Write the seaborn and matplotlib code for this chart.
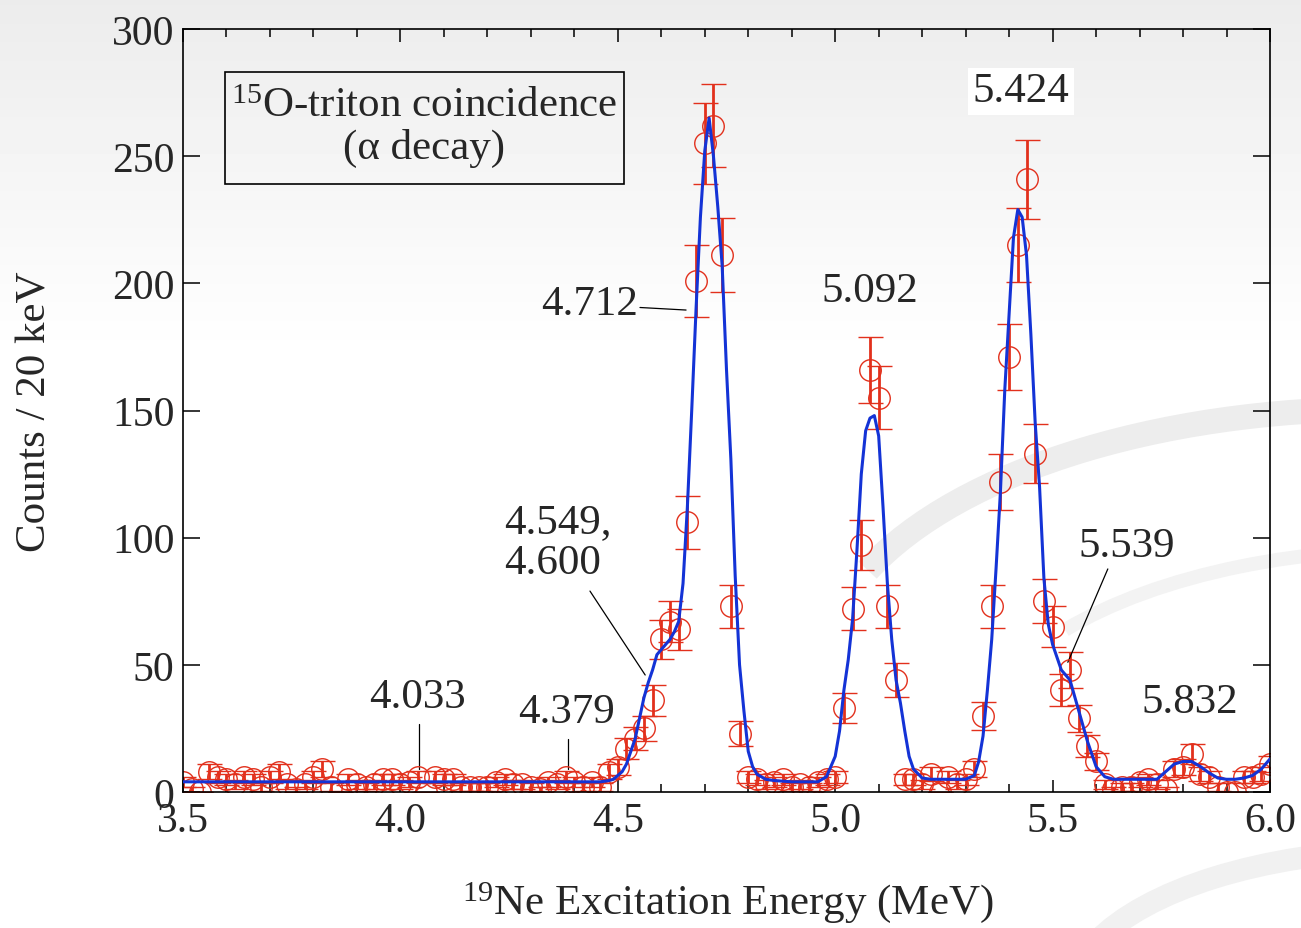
import numpy as np
import matplotlib
matplotlib.use("Agg")
import matplotlib.pyplot as plt
import seaborn as sns
from matplotlib.patches import Arc, Rectangle
from matplotlib.ticker import MultipleLocator

# measured spectrum, 20 keV bins from 3.50 to 6.00 MeV
energy = np.round(np.arange(3.50, 6.001, 0.02), 2)
counts = [4, 1, 0, 8, 6, 5, 3, 6, 5, 2,
          6, 8, 3, 1, 3, 6, 9, 2, 0, 5,
          3, 2, 3, 5, 5, 3, 4, 6, 0, 6,
          5, 5, 2, 2, 2, 2, 4, 5, 3, 3,
          2, 1, 4, 3, 6, 4, 2, 4, 2, 8,
          10, 17, 21, 25, 36, 60, 67, 64, 106, 201,
          255, 262, 211, 73, 23, 6, 5, 3, 4, 5,
          2, 3, 2, 4, 5, 6, 33, 72, 97, 166,
          155, 73, 44, 5, 5, 3, 7, 0, 6, 3,
          5, 9, 30, 73, 122, 171, 215, 241, 133, 75,
          65, 40, 48, 29, 18, 12, 3, 1, 2, 2,
          4, 5, 3, 1, 9, 10, 15, 7, 6, 2,
          0, 0, 6, 6, 7, 11]
errors = np.sqrt(counts)

# fitted curve
fit_energy = [3.50, 4.40, 4.46, 4.48, 4.49, 4.50, 4.51, 4.52, 4.53, 4.54,
              4.55, 4.56, 4.57, 4.58, 4.59, 4.60, 4.61, 4.62, 4.63, 4.64,
              4.65, 4.66, 4.67, 4.68, 4.69, 4.70, 4.71, 4.72, 4.73, 4.74,
              4.75, 4.76, 4.77, 4.78, 4.79, 4.80, 4.81, 4.82, 4.84, 4.86,
              4.90, 4.96, 4.98, 5.00, 5.01, 5.02, 5.03, 5.04, 5.05, 5.06,
              5.07, 5.08, 5.09, 5.10, 5.11, 5.12, 5.13, 5.14, 5.15, 5.16,
              5.17, 5.18, 5.20, 5.22, 5.30, 5.32, 5.33, 5.34, 5.35, 5.36,
              5.37, 5.38, 5.39, 5.40, 5.41, 5.42, 5.43, 5.44, 5.45, 5.46,
              5.47, 5.48, 5.49, 5.50, 5.52, 5.54, 5.56, 5.58, 5.60, 5.62,
              5.64, 5.74, 5.76, 5.78, 5.80, 5.82, 5.84, 5.86, 5.88, 5.90,
              5.92, 5.94, 5.96, 5.98, 6.00]
fit_counts = [4, 4, 4, 4.5, 5, 6.5, 8, 11, 16, 21,
              29, 37, 43, 48, 54, 56, 58, 60, 63, 67,
              82, 112, 150, 190, 226, 252, 265, 250, 230, 207,
              166, 131, 85, 50, 32, 16, 10, 7, 5, 4.5,
              4, 4, 6, 14, 24, 40, 52, 68, 95, 125,
              142, 147, 148, 140, 112, 82, 60, 44, 35, 24,
              14, 9, 5.5, 5, 5, 6.5, 12, 22, 40, 60,
              88, 118, 158, 188, 218, 229, 226, 211, 180, 145,
              120, 84, 66, 58, 48, 44, 32, 20, 10, 6,
              5, 5, 8, 11, 12, 12, 10, 7.5, 5.5, 5,
              5, 5.5, 6.5, 9, 13]

red = "#e2301c"
blue = "#1433d6"

sns.set_style("ticks")
plt.rcParams["font.family"] = ["Liberation Serif", "DejaVu Serif"]
plt.rcParams["mathtext.fontset"] = "custom"
plt.rcParams["mathtext.rm"] = "Liberation Serif"
plt.rcParams["mathtext.default"] = "regular"

fig = plt.figure(figsize=(13.01, 9.29), dpi=100)

# slide background: grey fade at the top and soft swooshes
bg = fig.add_axes([0, 0, 1, 1], zorder=-10)
shade = np.clip(np.linspace(0.925, 1.12, 300), 0, 1).reshape(-1, 1)
bg.imshow(shade, cmap="gray", vmin=0, vmax=1, aspect="auto",
          extent=[0, 1301, 929, 0])
for cx, cy, w, h, t1, t2, lw, col in [
        (1380, 680, 1120, 540, 192, 275, 18, "#ededed"),
        (1420, 760, 900, 420, 200, 280, 10, "#f3f3f3"),
        (1420, 1000, 700, 300, 190, 260, 16, "#f1f1f1")]:
    bg.add_patch(Arc((cx, cy), w, h, theta1=t1, theta2=t2, color=col, lw=lw))
bg.set_xlim(0, 1301)
bg.set_ylim(929, 0)
bg.axis("off")

ax = fig.add_axes([183 / 1301, 136 / 929, 1087 / 1301, 763 / 929])
ax.set_facecolor("none")

ax.errorbar(energy, counts, yerr=errors, fmt="o", ms=15.5, mfc="none",
            mec=red, mew=1.0, ecolor=red, elinewidth=2.0, capsize=9,
            capthick=2.0, zorder=2)
sns.lineplot(x=fit_energy, y=fit_counts, color=blue, lw=2.2, ax=ax,
             sort=False, zorder=3)

ax.set_xlim(3.5, 6.0)
ax.set_ylim(0, 300)
ax.xaxis.set_major_locator(MultipleLocator(0.5))
ax.xaxis.set_minor_locator(MultipleLocator(0.1))
ax.yaxis.set_major_locator(MultipleLocator(50))
ax.tick_params(axis="both", which="both", direction="in", top=True,
               right=True, width=1.1, labelsize=30, color="black")
ax.tick_params(axis="x", which="major", length=9, pad=7)
ax.tick_params(axis="x", which="minor", length=6)
ax.tick_params(axis="y", which="major", length=12, pad=6)
for s in ax.spines.values():
    s.set_linewidth(1.2)
    s.set_color("black")

ax.set_xlabel("$^{19}$Ne Excitation Energy (MeV)", fontsize=31)
ax.set_ylabel("Counts / 20 keV", fontsize=31)
ax.xaxis.label.set(va="center")
ax.yaxis.label.set(va="center")
ax.xaxis.set_label_coords(0.501, -0.144)
ax.yaxis.set_label_coords(-0.136, 0.5)

ax.text(4.055, 261.5, "$^{15}$O-triton coincidence\n(α decay)", fontsize=31,
        ha="center", va="center", multialignment="center", linespacing=1.12)
ax.add_patch(Rectangle((3.5966, 239.1), 0.9177, 44.0, fill=False,
                       ec="black", lw=1.2))

# peak labels with leader lines
ax.text(4.040, 37.4, "4.033", fontsize=31, ha="center", va="center")
ax.plot([4.043, 4.043], [26.7, 9.0], color="black", lw=0.9)
ax.text(4.381, 31.5, "4.379", fontsize=31, ha="center", va="center")
ax.plot([4.385, 4.385], [20.8, 9.0], color="black", lw=0.9)
ax.text(4.238, 98.1, "4.549,\n4.600", fontsize=31, ha="left", va="center",
        linespacing=1.1)
ax.plot([4.436, 4.563], [79, 46], color="black", lw=0.9)
ax.text(4.546, 192, "4.712", fontsize=31, ha="right", va="center")
ax.plot([4.551, 4.657], [190.5, 189.5], color="black", lw=0.9)
ax.text(5.080, 197, "5.092", fontsize=31, ha="center", va="center")
ax.text(5.427, 275.6, "5.424", fontsize=31, ha="center", va="center",
        bbox=dict(boxstyle="square,pad=0.1", fc="white", ec="none"))
ax.text(5.671, 96.7, "5.539", fontsize=31, ha="center", va="center")
ax.plot([5.627, 5.535], [87.7, 51], color="black", lw=0.9)
ax.text(5.816, 35.4, "5.832", fontsize=31, ha="center", va="center")

fig.savefig("out.png", dpi=100)
